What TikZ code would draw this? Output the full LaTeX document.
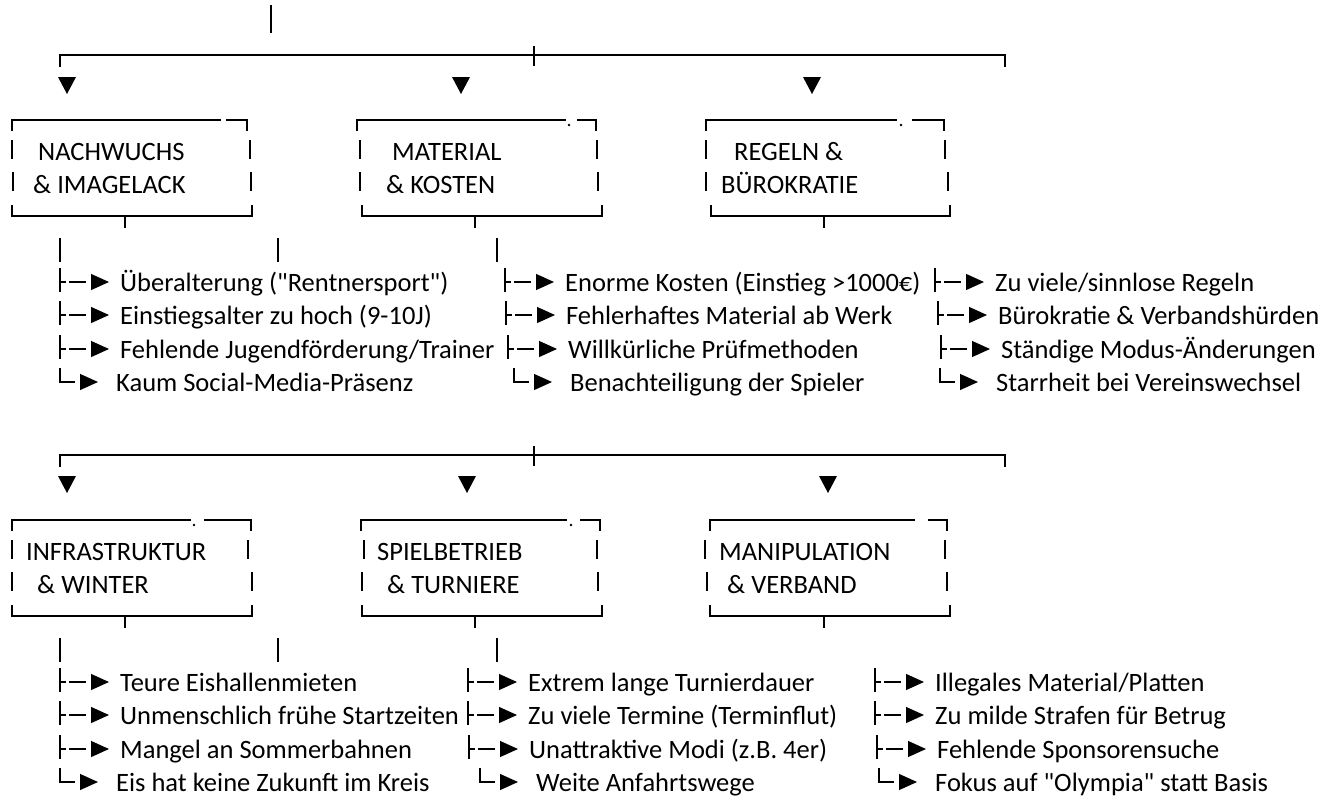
\documentclass[tikz,border=0pt]{standalone}
\usepackage{fontspec}
\setmainfont{Carlito}[Ligatures=TeXOff]
\usepackage{tikz}
\usetikzlibrary{calc,arrows.meta}

\begin{document}
\begin{tikzpicture}[x=1pt, y=-1pt,
    rule/.style={line width=1.2pt},
    wedge/.tip={Triangle[length=18pt,width=16pt]},
    twig/.style={rule, dash pattern=on 6pt off 3pt on 17pt off 40pt, -wedge},
    elbow/.style={rule, dash pattern=on 29pt off 40pt, -wedge},
    head/.style={anchor=base west, inner sep=0pt, font=\fontsize{26.5}{32}\selectfont},
    item/.style={anchor=west, inner sep=0pt, text height=22pt, text depth=4pt,
      font=\fontsize{26.5}{32}\selectfont}]
    \fill[white] (0,0) rectangle (1323,798);
    \useasboundingbox (0,0) rectangle (1323,798);

    % top stub and the two buses
    \draw[rule] (271,5) -- (271,33);
    \foreach \o in {0,400}
    {
      \coordinate (hub\o) at (534,55+\o);
      \draw[rule] (60,67+\o) |- (1005,55+\o) -- (1005,67+\o);
      \draw[rule] ($(hub\o)+(0,-9)$) -- ($(hub\o)+(0,11)$);
    }
    \foreach \x/\y in {67/85, 461/85, 812/85, 67/484, 467/484, 828/484}
      \fill (\x-9,\y-8) -- (\x+9,\y-8) -- (\x,\y+9) -- cycle;

    % frames, drawn piece by piece
    \foreach \o/\l/\g/\h/\r/\la/\lb/\ra/\rb/\bl/\br/\t in {
        0/12/221/226/247/12/13/250/251/12/252/125,
        0/357/566/577/596/360/360/597/598/362/602/475,
        0/706/897/912/944/706/706/945/948/711/950/824,
        400/12/191/204/251/12/12/248/252/12/252/125,
        400/361/567/580/600/364/362/597/598/362/602/475,
        400/710/915/928/947/705/707/945/947/710/950/824}
    {
      \draw[rule] (\l,131+\o) |- (\g,120+\o);
      \draw[rule] (\h,120+\o) -| (\r,131+\o);
      \draw[rule] (\la,140+\o) -- (\la,159+\o) (\lb,172+\o) -- (\lb,191+\o);
      \draw[rule] (\ra,140+\o) -- (\ra,159+\o) (\rb,172+\o) -- (\rb,191+\o);
      \draw[rule] (\bl,205+\o) |- (\br,216+\o) -- (\br,205+\o);
      \draw[rule] (\t,216+\o) -- (\t,228+\o);
    }
    \foreach \x/\y in {569/125, 901/125, 194/525, 571/525}
      \fill (\x,\y) circle[radius=1.4pt];

    \node[head] (nachwuchs) at (38,160) {NACHWUCHS};
    \node[head] (nachwuchs2) at (33,193) {\& IMAGELACK};
    \node[head] (material) at (392,160) {MATERIAL};
    \node[head] (material2) at (386,193) {\& KOSTEN};
    \node[head] (regeln) at (734,160) {REGELN \&};
    \node[head] (regeln2) at (721,193) {BÜROKRATIE};
    \node[head] (infra) at (26,560) {INFRASTRUKTUR};
    \node[head] (infra2) at (37,593) {\& WINTER};
    \node[head] (spiel) at (377,560) {SPIELBETRIEB};
    \node[head] (spiel2) at (387,593) {\& TURNIERE};
    \node[head] (manip) at (719,560) {MANIPULATION};
    \node[head] (manip2) at (727,593) {\& VERBAND};

    \foreach \x in {60,278,497}
      \draw[rule] (\x,238) -- (\x,262) (\x,638) -- (\x,662);

    % branches with a follower
    \foreach \nm/\x/\y/\txt in {
        nw1/120/282/{Überalterung ("Rentnersport")},
        nw2/120/315/{Einstiegsalter zu hoch (9-10J)},
        nw3/120/349/{Fehlende Jugendförderung/Trainer},
        mk1/565/282/{Enorme Kosten (Einstieg >1000€)},
        mk2/566/315/{Fehlerhaftes Material ab Werk},
        mk3/568/349/{Willkürliche Prüfmethoden},
        rb1/995/282/{Zu viele/sinnlose Regeln},
        rb2/998/315/{Bürokratie \& Verbandshürden},
        rb3/1001/349/{Ständige Modus-Änderungen},
        iw1/120/682/{Teure Eishallenmieten},
        iw2/120/715/{Unmenschlich frühe Startzeiten},
        iw3/120/749/{Mangel an Sommerbahnen},
        st1/528/682/{Extrem lange Turnierdauer},
        st2/528/715/{Zu viele Termine (Terminflut)},
        st3/529/749/{Unattraktive Modi (z.B. 4er)},
        mv1/935/682/{Illegales Material/Platten},
        mv2/935/715/{Zu milde Strafen für Betrug},
        mv3/937/749/{Fehlende Sponsorensuche}}
    {
      \node[item] (\nm) at (\x,\y) {\txt};
      \draw[rule] ($(\nm.west)+(-60,-14)$) -- ++(0,24);
      \draw[twig] ($(\nm.west)+(-60,0)$) -- ($(\nm.west)+(-11,0)$);
    }
    % last branch of each list
    \foreach \nm/\x/\y/\txt in {
        nw4/116/382/{Kaum Social-Media-Präsenz},
        mk4/570/382/{Benachteiligung der Spieler},
        rb4/996/382/{Starrheit bei Vereinswechsel},
        iw4/116/782/{Eis hat keine Zukunft im Kreis},
        st4/536/782/{Weite Anfahrtswege},
        mv4/935/782/{Fokus auf "Olympia" statt Basis}}
    {
      \node[item] (\nm) at (\x,\y) {\txt};
      \draw[elbow] ($(\nm.west)+(-56,-14)$) |- ($(\nm.west)+(-18,0)$);
    }
\end{tikzpicture}
\end{document}
